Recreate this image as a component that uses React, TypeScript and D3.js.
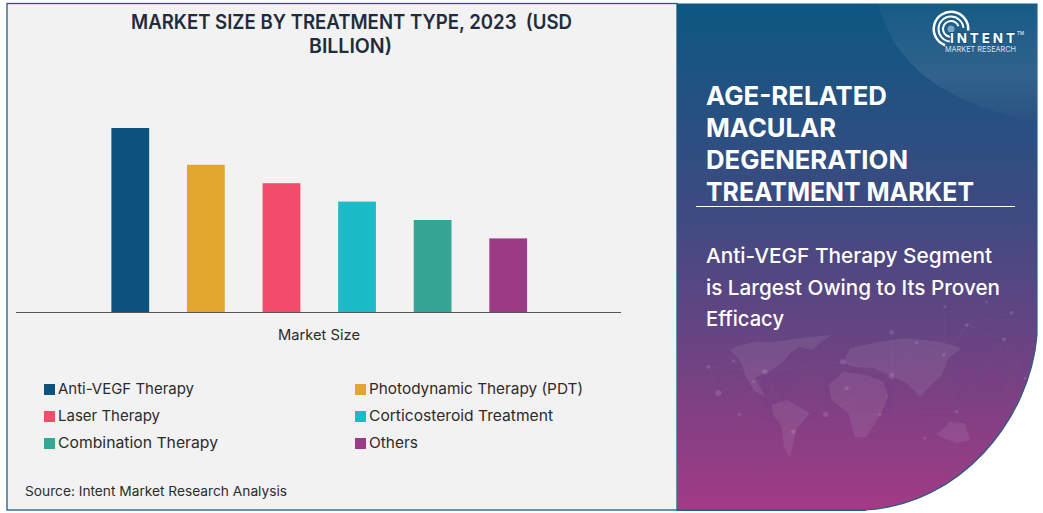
import React from "react";
import * as d3 from "d3";

const categories = ["Anti-VEGF Therapy", "Photodynamic Therapy (PDT)", "Laser Therapy", "Corticosteroid Treatment", "Combination Therapy", "Others"];
const values = [5.0, 4.0, 3.5, 3.0, 2.5, 2.0];
const colors = ["#0b527f", "#e2a62e", "#f44d6c", "#1bbcc8", "#36a595", "#9c3b85"];
const legendWidths = [136, 214, 102, 184, 160, 49];
const titleLines: [string, number, number][] = [["MARKET SIZE BY TREATMENT TYPE, 2023  (USD", 131, 29], ["BILLION)", 309, 53]];
const titleWidths = [441, 83];
const panelTitle: [string, number, number][] = [["AGE-RELATED", 181, 105], ["MACULAR", 130, 137], ["DEGENERATION", 202, 169], ["TREATMENT MARKET", 268, 201]];
const panelSub: [string, number, number][] = [["Anti-VEGF Therapy Segment", 286, 263], ["is Largest Owing to Its Proven", 294, 295], ["Efficacy", 78, 326]];

const FONT = "Inter, 'Open Sans', sans-serif";

const continents = [
  "M270 150L300 135L350 125L400 125L460 118L500 112L575 105L545 125L515 150L480 140L450 160L425 190L385 215L345 232L375 290L340 270L315 225L305 190L285 165Z",
  "M395 315L440 300L510 340L470 385L460 430L450 475L432 440L425 380L400 345Z",
  "M565 255L610 215L680 225L730 245L745 290L720 345L680 410L645 415L625 340L575 300Z",
  "M610 190L630 145L720 125L800 115L900 125L965 145L925 175L905 225L880 250L840 290L800 250L750 225L700 205L640 200Z",
  "M890 405L930 365L975 370L990 420L950 430Z",
];
const nodes = [[205, 200, 6], [235, 280, 9], [280, 183, 5], [375, 215, 8], [340, 245, 5], [298, 343, 5], [460, 395, 7], [557, 343, 8], [608, 185, 8], [620, 265, 6], [755, 228, 9], [720, 343, 5], [755, 97, 7], [830, 128, 5], [912, 165, 5], [980, 75, 6], [1092, 118, 6], [1115, 38, 6], [915, 20, 5], [1040, 5, 4], [1155, 235, 4], [855, 415, 4], [950, 335, 5]];
const links = [[0, 1], [0, 3], [1, 3], [2, 3], [3, 5], [3, 6], [5, 6], [6, 7], [7, 9], [7, 10], [8, 10], [9, 10], [10, 11], [10, 12], [10, 13], [13, 14], [14, 15], [15, 16], [15, 17], [16, 20], [14, 18], [14, 19], [11, 21], [11, 22], [22, 16], [8, 3], [11, 7]];

const logoArcs = [
  [7, 9, -190, 70],
  [11.5, 13.5, -175, 85],
  [16, 18.5, -160, 95],
];

function Fit({ w, children, ...rest }: any) {
  return <text textLength={w} lengthAdjust="spacingAndGlyphs" {...rest}>{children}</text>;
}

export default function App() {
  const x = d3.scaleBand<string>().domain(categories).range([92.5, 546]).paddingInner(0.5).paddingOuter(0.25);
  const y = d3.scaleLinear().domain([0, 5]).range([312, 128]);
  const arc = d3.arc();
  const rad = Math.PI / 180;
  const edge = "M1037 3.5V335C1030 420 960 505 865 510";
  const panel = `M677 3.5H1037V335C1030 420 960 505 865 510H677Z`;
  return (
    <svg width={1043} height={513} style={{ position: "absolute", left: 0, top: 0, display: "block", background: "#fff", fontFamily: FONT }}>
      <defs>
        <linearGradient id="pg" x1="0" y1="0" x2="0" y2="1">
          <stop offset="0" stopColor="#0d5782" />
          <stop offset="0.42" stopColor="#3f4a81" />
          <stop offset="1" stopColor="#a23b85" />
        </linearGradient>
        <linearGradient id="sheen" x1="0" y1="0" x2="0" y2="1">
          <stop offset="0" stopColor="#fff" stopOpacity={0.03} />
          <stop offset="0.6" stopColor="#fff" stopOpacity={0.09} />
          <stop offset="1" stopColor="#fff" stopOpacity={0.01} />
        </linearGradient>
        <clipPath id="pc"><path d={panel} /></clipPath>
      </defs>
      <rect x={7} y={3.5} width={670} height={506.5} fill="#f2f2f2" stroke="#1b5c80" strokeWidth={1.3} />
      <path d={panel} fill="url(#pg)" />
      <path d={edge} fill="none" stroke="#2a5c85" strokeWidth={1.2} />
      <line x1={677} x2={866} y1={510.3} y2={510.3} stroke="#1b5c80" strokeWidth={1.3} />
      <g clipPath="url(#pc)">
        <path d="M878 3C895 70 950 105 1040 122V3Z" fill="url(#sheen)" />
        <g transform="translate(640,300) scale(0.3333)">
          {continents.map((d, i) => <path key={i} d={d} fill="#fff" opacity={0.08} />)}
          {links.map(([a, b], i) => (
            <line key={i} x1={nodes[a][0]} y1={nodes[a][1]} x2={nodes[b][0]} y2={nodes[b][1]} stroke="#fff" strokeWidth={1.5} opacity={0.05} />
          ))}
          {nodes.map(([cx, cy, r], i) => <circle key={i} cx={cx} cy={cy} r={r} fill="#fff" opacity={0.12} />)}
        </g>
      </g>

      {titleLines.map(([t, tx, ty], i) => (
        <Fit key={t} x={tx} y={ty} w={titleWidths[i]} fontSize={20} fontWeight={600} fill="#1f2c3c" style={{ whiteSpace: "pre" }}>{t}</Fit>
      ))}

      {categories.map((c, i) => (
        <rect key={c} x={x(c)} y={y(values[i])} width={x.bandwidth()} height={y(0) - y(values[i])} fill={colors[i]} />
      ))}
      <line x1={16} x2={621} y1={312.5} y2={312.5} stroke="#555" strokeWidth={1} />
      <Fit x={278} y={340} w={82} fontSize={14.5} fill="#2b2b2b">Market Size</Fit>

      {categories.map((c, i) => {
        const col = i % 2;
        const row = Math.floor(i / 2);
        const by = 394 + row * 27;
        return (
          <g key={c}>
            <rect x={col ? 355 : 44} y={by - 10} width={11} height={11} fill={colors[i]} />
            <Fit x={col ? 369 : 58} y={by} w={legendWidths[i]} fontSize={15} fill="#2b2b2b">{c}</Fit>
          </g>
        );
      })}
      <Fit x={25} y={496} w={262} fontSize={13} fill="#2b2b2b">Source: Intent Market Research Analysis</Fit>

      {panelTitle.map(([t, w, ty]) => (
        <Fit key={t} x={706} y={ty} w={w} fontSize={26} fontWeight={700} fill="#fff">{t}</Fit>
      ))}
      <line x1={696} x2={1015} y1={206.5} y2={206.5} stroke="#fff" strokeWidth={1} />
      {panelSub.map(([t, w, ty]) => (
        <Fit key={t} x={706} y={ty} w={w} fontSize={20.5} fontWeight={500} fill="#fff">{t}</Fit>
      ))}

      <g transform="translate(951,29)">
        {logoArcs.map(([r0, r1, a0, a1], i) => (
          <path key={i} d={arc({ innerRadius: r0, outerRadius: r1, startAngle: a0 * rad, endAngle: a1 * rad }) as string} fill="#fff" />
        ))}
        <circle r={3.5} fill="#7fa8c6" />
      </g>
      <text x={950} y={43} fontSize={13.5} fontWeight={700} fill="#fff" textLength={65} lengthAdjust="spacing" stroke="#13527d" strokeWidth={2} paintOrder="stroke">INTENT</text>
      <Fit x={945} y={52} w={71} fontSize={8} fill="#d5e3ef">MARKET RESEARCH</Fit>
      <text x={1017} y={35} fontSize={4.5} fill="#fff">TM</text>
    </svg>
  );
}
